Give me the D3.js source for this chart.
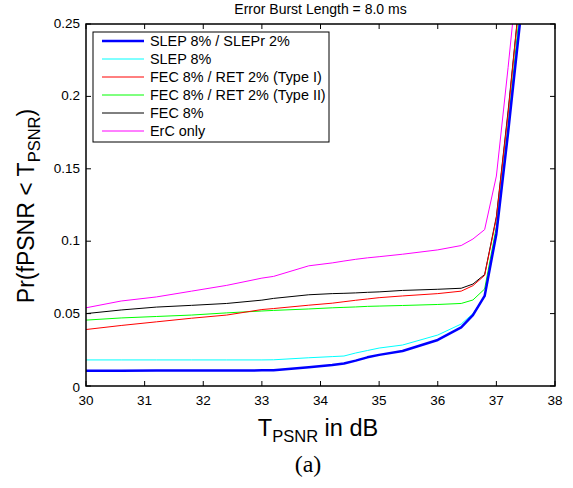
<!DOCTYPE html>
<html><head><meta charset="utf-8">
<script src="https://cdn.jsdelivr.net/npm/d3@7"></script>
<style>body{margin:0;background:#fff}svg{display:block}</style>
</head><body>
<svg id="c" width="573" height="488"></svg>
<script>
const xVals = [30, 30.6, 31.2, 31.8, 32.4, 33.0, 33.2, 33.8, 34.2, 34.4, 34.6, 34.8, 35.0, 35.4, 36.0, 36.4, 36.6, 36.8, 37.0, 37.2, 37.4];
const slepSlepr = [0.0105,0.0106,0.0107,0.0107,0.0107,0.0108,0.0108,0.013,0.0145,0.0155,0.0175,0.0198,0.0215,0.0242,0.0318,0.0405,0.049,0.0622,0.105,0.175,0.25];
const slep = [0.018,0.018,0.018,0.018,0.018,0.018,0.0181,0.0195,0.0203,0.0207,0.0228,0.0245,0.0262,0.0283,0.0352,0.0428,0.050,0.0617,0.105,0.175,0.255];
const fecRet1 = [0.039,0.0418,0.0443,0.0468,0.049,0.0528,0.0535,0.0558,0.0572,0.0582,0.0592,0.0601,0.061,0.0622,0.0638,0.0655,0.0693,0.0764,0.116,0.188,0.27];
const fecRet2 = [0.0455,0.047,0.048,0.049,0.0505,0.0518,0.0522,0.0532,0.054,0.0543,0.0546,0.055,0.0552,0.0556,0.0563,0.057,0.0594,0.067,0.11,0.18,0.26];
const fec = [0.050,0.0525,0.0545,0.0557,0.057,0.0593,0.0605,0.063,0.0638,0.064,0.0643,0.0647,0.065,0.066,0.0668,0.0675,0.0704,0.077,0.117,0.19,0.27];
const ercOnly = [0.054,0.0587,0.0615,0.0655,0.0695,0.0745,0.0757,0.083,0.085,0.0863,0.0875,0.0885,0.0893,0.091,0.094,0.097,0.1015,0.108,0.145,0.22,0.30];
const seriesNames = ["SLEP 8% / SLEPr 2%","SLEP 8%","FEC 8% / RET 2% (Type I)","FEC 8% / RET 2% (Type II)","FEC 8%","ErC only"];
const seriesColors = ["#0000ff","#00ffff","#ff0000","#00ff00","#000000","#ff00ff"];
const seriesWidths = [2.5,1,1,1,1,1];
const seriesData = [slepSlepr, slep, fecRet1, fecRet2, fec, ercOnly];
const xTicks = [30,31,32,33,34,35,36,37,38];
const yTicks = [0,0.05,0.1,0.15,0.2,0.25];
const yTickLabels = ["0","0.05","0.1","0.15","0.2","0.25"];
const titleText = "Error Burst Length = 8.0 ms";

const svg = d3.select("#c");
const L=86, R=555, T=24, B=386;
const x = d3.scaleLinear().domain([30,38]).range([L,R]);
const y = d3.scaleLinear().domain([0,0.25]).range([B,T]);
const font = "Liberation Sans, Arial, Helvetica, sans-serif";

svg.append("defs").append("clipPath").attr("id","clip")
  .append("rect").attr("x",L).attr("y",T).attr("width",R-L).attr("height",B-T);

const line = d3.line().x((d,i)=>x(xVals[i])).y(d=>y(d));
const order = [5,4,3,2,1,0];
const g = svg.append("g").attr("clip-path","url(#clip)");
order.forEach(k=>{
  g.append("path").datum(seriesData[k]).attr("d",line)
    .attr("fill","none").attr("stroke",seriesColors[k])
    .attr("stroke-width",seriesWidths[k]).attr("stroke-linejoin","round");
});

// axes
const tick = 5;
const ax = svg.append("g").attr("stroke","#000").attr("stroke-width",1);
xTicks.forEach(t=>{
  ax.append("line").attr("x1",x(t)).attr("x2",x(t)).attr("y1",B).attr("y2",B-tick);
  ax.append("line").attr("x1",x(t)).attr("x2",x(t)).attr("y1",T).attr("y2",T+tick);
});
yTicks.forEach(t=>{
  ax.append("line").attr("x1",L).attr("x2",L+tick).attr("y1",y(t)).attr("y2",y(t));
  ax.append("line").attr("x1",R).attr("x2",R-tick).attr("y1",y(t)).attr("y2",y(t));
});
svg.append("rect").attr("x",L).attr("y",T).attr("width",R-L).attr("height",B-T)
  .attr("fill","none").attr("stroke","#000").attr("stroke-width",1.5);

const xl = svg.append("g").attr("font-family",font).attr("font-size",13.5).attr("text-anchor","middle");
xTicks.forEach(t=>{
  xl.append("text").attr("x",x(t)).attr("y",B+19).text(t);
});
const yl = svg.append("g").attr("font-family",font).attr("font-size",13.5).attr("text-anchor","end");
yTicks.forEach((t,i)=>{
  yl.append("text").attr("x",L-6).attr("y",y(t)+ (i===0? 6:4)).text(yTickLabels[i]);
});

// title
svg.append("text").attr("x",(L+R)/2).attr("y",14).attr("text-anchor","middle")
  .attr("font-family",font).attr("font-size",14).text(titleText);

// x label
const xlab = svg.append("text").attr("x",318).attr("y",436).attr("text-anchor","middle")
  .attr("font-family",font).attr("font-size",23.5);
xlab.append("tspan").text("T");
xlab.append("tspan").attr("font-size",16.5).attr("dy",6).text("PSNR");
xlab.append("tspan").attr("dy",-6).text(" in dB");

// y label
const ylab = svg.append("text").attr("transform","translate(34,206) rotate(-90)")
  .attr("text-anchor","middle").attr("font-family",font).attr("font-size",23);
ylab.append("tspan").text("Pr(fPSNR < T");
ylab.append("tspan").attr("font-size",16.5).attr("dy",6).text("PSNR");
ylab.append("tspan").attr("dy",-6).text(")");

// (a)
svg.append("text").attr("x",308).attr("y",472).attr("text-anchor","middle")
  .attr("font-family","Liberation Serif, Times New Roman, serif").attr("font-size",24).text("(a)");

// legend
const lg = svg.append("g");
lg.append("rect").attr("x",93).attr("y",32).attr("width",236).attr("height",110)
  .attr("fill","#fff").attr("stroke","#000").attr("stroke-width",1);
seriesNames.forEach((n,i)=>{
  const yy = 41 + i*18;
  lg.append("line").attr("x1",102).attr("x2",144).attr("y1",yy).attr("y2",yy)
    .attr("stroke",seriesColors[i]).attr("stroke-width",seriesWidths[i]);
  lg.append("text").attr("x",150).attr("y",yy+5).attr("font-family",font).attr("font-size",14.4).text(n);
});
</script>
</body></html>
